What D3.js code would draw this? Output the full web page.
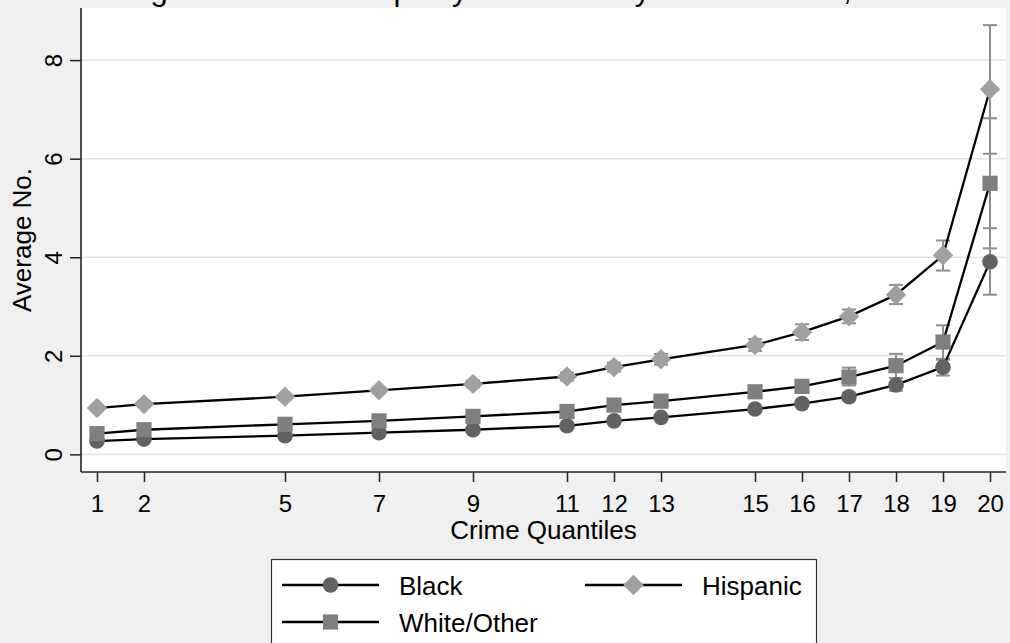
<!DOCTYPE html>
<html>
<head>
<meta charset="utf-8">
<script src="https://cdn.jsdelivr.net/npm/d3@7"></script>
<style>
  html, body { margin: 0; padding: 0; background: #f0f0f0; }
  svg { display: block; font-family: Arial, "Liberation Sans", Helvetica, sans-serif; }
</style>
</head>
<body>
<svg id="chart" width="1010" height="643"></svg>
<script>
// Crime quantiles shown on the x axis
const quantiles = [1, 2, 5, 7, 9, 11, 12, 13, 15, 16, 17, 18, 19, 20];

// Average number per quantile, with confidence bounds
const black   = [0.27, 0.31, 0.38, 0.44, 0.50, 0.58, 0.68, 0.75, 0.92, 1.03, 1.17, 1.41, 1.77, 3.91];
const blackLo = [0.24, 0.28, 0.35, 0.41, 0.47, 0.55, 0.64, 0.71, 0.87, 0.97, 1.10, 1.29, 1.60, 3.24];
const blackHi = [0.30, 0.34, 0.41, 0.47, 0.53, 0.61, 0.72, 0.79, 0.97, 1.09, 1.24, 1.55, 1.92, 4.59];

const white   = [0.42, 0.50, 0.61, 0.68, 0.77, 0.87, 1.00, 1.08, 1.27, 1.38, 1.57, 1.80, 2.28, 5.50];
const whiteLo = [0.38, 0.46, 0.57, 0.64, 0.72, 0.81, 0.93, 0.99, 1.17, 1.26, 1.40, 1.55, 1.94, 4.18];
const whiteHi = [0.46, 0.54, 0.65, 0.72, 0.82, 0.93, 1.07, 1.17, 1.37, 1.50, 1.76, 2.04, 2.62, 6.82];

const hisp    = [0.94, 1.02, 1.17, 1.30, 1.43, 1.58, 1.77, 1.93, 2.22, 2.48, 2.80, 3.24, 4.04, 7.41];
const hispLo  = [0.89, 0.97, 1.11, 1.24, 1.36, 1.50, 1.68, 1.82, 2.10, 2.32, 2.66, 3.05, 3.73, 6.10];
const hispHi  = [0.99, 1.07, 1.23, 1.36, 1.50, 1.66, 1.86, 2.04, 2.34, 2.64, 2.94, 3.44, 4.34, 8.71];

const yTicks = [0, 2, 4, 6, 8];
const seriesNames = ["Black", "White/Other", "Hispanic"];

const titleText = "Average Number of Stops by Race and by Crime Ventile, NYC";
const xTitle = "Crime Quantiles";
const yTitle = "Average No.";

const svg = d3.select("#chart");
const W = 1010, H = 643;

// plot region
const plot = { left: 81, right: 1006, top: 8, bottom: 472 };

const x = d3.scaleLinear().domain([0.66, 20.34]).range([plot.left, plot.right]);
const y = d3.scaleLinear().domain([-0.3575, 9.0575]).range([plot.bottom, plot.top]);

// backgrounds
svg.append("rect").attr("width", W).attr("height", H).attr("fill", "#f0f0f0");
svg.append("rect")
  .attr("x", plot.left).attr("y", plot.top)
  .attr("width", plot.right - plot.left).attr("height", plot.bottom - plot.top)
  .attr("fill", "#ffffff");

// title (sits mostly above the visible area)
svg.append("text")
  .attr("x", 70).attr("y", 0)
  .attr("text-anchor", "start")
  .attr("font-size", 31)
  .attr("fill", "#000")
  .text(titleText);

// horizontal grid
svg.append("g").selectAll("line").data(yTicks).join("line")
  .attr("x1", plot.left).attr("x2", plot.right)
  .attr("y1", d => y(d)).attr("y2", d => y(d))
  .attr("stroke", "#e4e4e4").attr("stroke-width", 1.6);

// axes
const yAxis = svg.append("g")
  .attr("transform", `translate(${plot.left},0)`)
  .call(d3.axisLeft(y).tickValues(yTicks).tickSize(11).tickPadding(8).tickFormat(d3.format("d")));
yAxis.select(".domain").remove();
yAxis.selectAll(".tick line").attr("stroke", "#222").attr("stroke-width", 1.5);
yAxis.selectAll(".tick text")
  .attr("font-size", 24).attr("fill", "#000")
  .attr("font-family", null)
  .attr("text-anchor", "middle")
  .attr("dy", null)
  .attr("x", null)
  .attr("transform", "translate(-19,0) rotate(-90)");

const xAxis = svg.append("g")
  .attr("transform", `translate(0,${plot.bottom})`)
  .call(d3.axisBottom(x).tickValues(quantiles).tickSize(10).tickPadding(6).tickFormat(d3.format("d")));
xAxis.select(".domain").remove();
xAxis.selectAll(".tick line").attr("stroke", "#222").attr("stroke-width", 1.5);
xAxis.selectAll(".tick text")
  .attr("font-size", 24).attr("fill", "#000")
  .attr("font-family", null)
  .attr("dy", null)
  .attr("y", 40);

// axis lines
svg.append("line")
  .attr("x1", plot.left).attr("x2", plot.left)
  .attr("y1", plot.top).attr("y2", plot.bottom)
  .attr("stroke", "#222").attr("stroke-width", 1.6);
svg.append("line")
  .attr("x1", plot.left).attr("x2", plot.right)
  .attr("y1", plot.bottom).attr("y2", plot.bottom)
  .attr("stroke", "#222").attr("stroke-width", 1.6);

// axis titles
svg.append("text")
  .attr("x", (plot.left + plot.right) / 2).attr("y", 539)
  .attr("text-anchor", "middle").attr("font-size", 26).attr("fill", "#000")
  .text(xTitle);
svg.append("text")
  .attr("transform", `translate(31,${(plot.top + plot.bottom) / 2}) rotate(-90)`)
  .attr("text-anchor", "middle").attr("font-size", 26).attr("fill", "#000")
  .text(yTitle);

// series definitions
const series = [
  { name: seriesNames[0], mean: black, lo: blackLo, hi: blackHi, shape: "circle",  color: "#626262" },
  { name: seriesNames[1], mean: white, lo: whiteLo, hi: whiteHi, shape: "square",  color: "#7f7f7f" },
  { name: seriesNames[2], mean: hisp,  lo: hispLo,  hi: hispHi,  shape: "diamond", color: "#a0a0a0" }
];

function drawMarker(g, shape, color, cx, cy) {
  if (shape === "circle") {
    g.append("circle").attr("cx", cx).attr("cy", cy).attr("r", 7.8).attr("fill", color);
  } else if (shape === "square") {
    g.append("rect").attr("x", cx - 7.6).attr("y", cy - 7.6).attr("width", 15.2).attr("height", 15.2).attr("fill", color);
  } else {
    const r = 10.2;
    g.append("path")
      .attr("d", `M${cx},${cy - r}L${cx + r},${cy}L${cx},${cy + r}L${cx - r},${cy}Z`)
      .attr("fill", color);
  }
}

// confidence intervals
const ciG = svg.append("g");
const capHalf = 7;
series.forEach(s => {
  quantiles.forEach((q, i) => {
    const cx = x(q);
    ciG.append("line").attr("x1", cx).attr("x2", cx).attr("y1", y(s.lo[i])).attr("y2", y(s.hi[i]))
      .attr("stroke", "#8e8e8e").attr("stroke-width", 2);
    [s.lo[i], s.hi[i]].forEach(v => {
      ciG.append("line").attr("x1", cx - capHalf).attr("x2", cx + capHalf).attr("y1", y(v)).attr("y2", y(v))
        .attr("stroke", "#8e8e8e").attr("stroke-width", 2);
    });
  });
});

// connected lines and markers
const lineGen = d3.line().x((d, i) => x(quantiles[i])).y(d => y(d));
series.forEach(s => {
  svg.append("path").datum(s.mean).attr("d", lineGen)
    .attr("fill", "none").attr("stroke", "#000").attr("stroke-width", 2.3);
});
series.forEach(s => {
  const g = svg.append("g");
  s.mean.forEach((v, i) => drawMarker(g, s.shape, s.color, x(quantiles[i]), y(v)));
});

// legend
const legend = svg.append("g");
legend.append("rect")
  .attr("x", 271.5).attr("y", 559.5).attr("width", 545).attr("height", 110)
  .attr("fill", "#fff").attr("stroke", "#333").attr("stroke-width", 1.2);

const legendItems = [
  { s: series[0], kx: 282, tx: 399, cy: 585 },
  { s: series[2], kx: 585, tx: 702, cy: 585 },
  { s: series[1], kx: 282, tx: 399, cy: 622 }
];
legendItems.forEach(it => {
  legend.append("line").attr("x1", it.kx).attr("x2", it.kx + 97)
    .attr("y1", it.cy).attr("y2", it.cy).attr("stroke", "#000").attr("stroke-width", 2.3);
  drawMarker(legend, it.s.shape, it.s.color, it.kx + 48.5, it.cy);
  legend.append("text").attr("x", it.tx).attr("y", it.cy + 9.5)
    .attr("font-size", 26).attr("fill", "#000").text(it.s.name);
});
</script>
</body>
</html>
